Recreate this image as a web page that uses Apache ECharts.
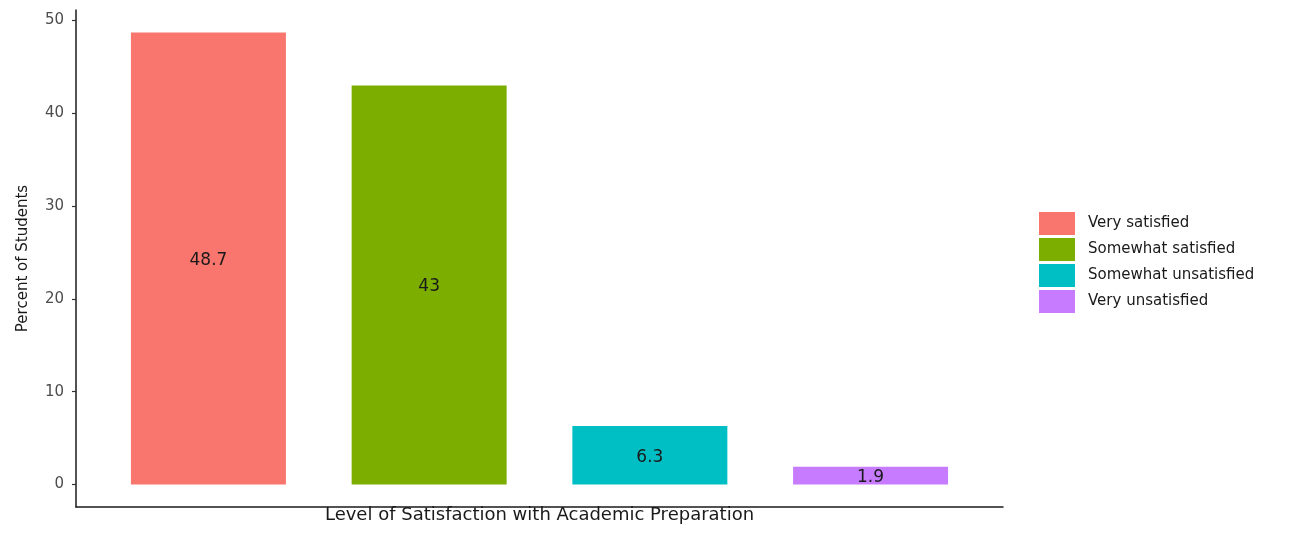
<!DOCTYPE html>
<html>
<head>
<meta charset="utf-8">
<script src="https://cdn.jsdelivr.net/npm/echarts@6/dist/echarts.min.js"></script>
<style>
html,body{margin:0;padding:0;background:#fff;}
#chart{width:1305px;height:534px;}
</style>
</head>
<body>
<div id="chart"></div>
<script>
const categories = ['Very satisfied', 'Somewhat satisfied', 'Somewhat unsatisfied', 'Very unsatisfied'];
const values = [48.7, 43, 6.3, 1.9];
const colors = ['#F8766D', '#7CAE00', '#00BFC4', '#C77CFF'];
const yTicks = [0, 10, 20, 30, 40, 50];

const FONT = 'DejaVu Sans';
const yMin = -0.05 * Math.max(...values);
const yMax = Math.max(...values) * 1.05;

const series = categories.map((name, i) => ({
  name: name,
  type: 'bar',
  data: [[i + 1, values[i]]],
  barWidth: 155,
  barGap: '-100%',
  itemStyle: { color: colors[i] },
  label: {
    show: true,
    position: 'inside',
    offset: [0, 2],
    color: '#1a1a1a',
    fontFamily: FONT,
    fontSize: 17,
    formatter: p => String(p.value[1])
  }
}));

const chart = echarts.init(document.getElementById('chart'));
chart.setOption({
  animation: false,
  backgroundColor: '#fff',
  grid: { left: 76, right: 302, top: 10, bottom: 27, containLabel: false },
  xAxis: {
    type: 'value',
    min: 0.4,
    max: 4.6,
    name: 'Level of Satisfaction with Academic Preparation',
    nameLocation: 'middle',
    nameGap: -1,
    nameTextStyle: { fontFamily: FONT, fontSize: 18, color: '#1a1a1a', verticalAlign: 'top' },
    axisLine: { show: true, onZero: false, lineStyle: { color: '#1a1a1a', width: 1.5 } },
    axisTick: { show: false },
    axisLabel: { show: false },
    splitLine: { show: false }
  },
  yAxis: {
    type: 'value',
    min: yMin,
    max: yMax,
    name: 'Percent of Students',
    nameLocation: 'middle',
    nameRotate: 90,
    nameGap: 45,
    nameTextStyle: { fontFamily: FONT, fontSize: 15, color: '#1a1a1a' },
    axisLine: { show: true, onZero: false, lineStyle: { color: '#1a1a1a', width: 1.5 } },
    axisTick: { show: true, length: 4, customValues: yTicks, lineStyle: { color: '#333', width: 1.2 } },
    axisLabel: { show: true, customValues: yTicks, margin: 12, color: '#4d4d4d', fontFamily: FONT, fontSize: 15 },
    splitLine: { show: false }
  },
  legend: {
    orient: 'vertical',
    left: 1034,
    top: 207,
    itemWidth: 36,
    itemHeight: 23,
    itemGap: 3,
    icon: 'rect',
    selectedMode: false,
    textStyle: { fontFamily: FONT, fontSize: 15, color: '#1a1a1a', padding: [0, 0, 0, 8] },
    data: categories
  },
  series: series
});
</script>
</body>
</html>
